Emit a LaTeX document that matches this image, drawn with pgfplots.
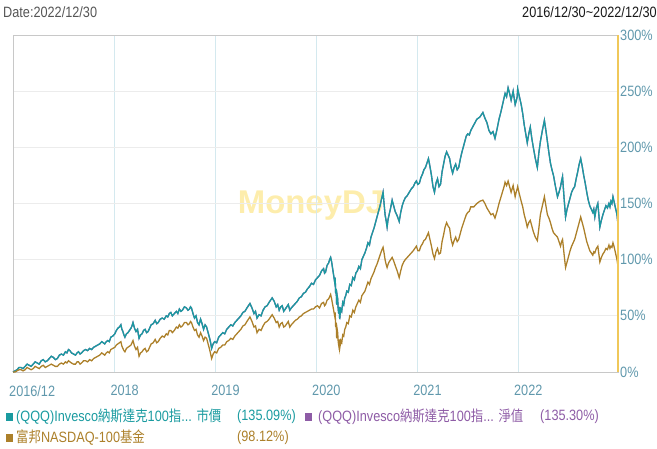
\documentclass[border=0pt]{standalone}
\usepackage{pgfplots}
\pgfplotsset{compat=1.18}
\usepackage{pgfplotstable}
\usepackage{fontspec}
\setmainfont{Liberation Sans}[FakeStretch=0.85]
\newfontfamily\cjk{Noto Sans CJK TC}[FakeStretch=0.83]
\newfontfamily\wm{Liberation Sans}

\definecolor{qqq}{RGB}{26,155,160}
\definecolor{nav}{RGB}{142,92,166}
\definecolor{fund}{RGB}{172,128,42}
\definecolor{ticktxt}{RGB}{96,152,172}
\definecolor{hgrid}{RGB}{236,236,236}
\definecolor{vgrid}{RGB}{212,233,239}
\definecolor{frame}{RGB}{200,200,200}
\definecolor{yaxis}{RGB}{240,200,90}
\definecolor{mark}{RGB}{253,237,172}

% t = years since 2016/12/30, q = QQQ price return %, f = fund return %
\pgfplotstableread{
t q f
0.00 0 0
0.02 1 0
0.04 2 1
0.06 4 2
0.08 4 2
0.10 3 1
0.12 5 2
0.14 7 4
0.16 6 3
0.18 5 2
0.20 7 3
0.22 9 5
0.24 8 4
0.26 7 3
0.28 10 5
0.30 11 6
0.32 9 4
0.34 10 5
0.36 12 6
0.38 14 7
0.40 13 6
0.42 11 5
0.44 12 5
0.46 15 7
0.48 16 8
0.50 15 7
0.52 18 9
0.535 17 8
0.55 20 10
0.565 19 9
0.58 17 8
0.60 16 7
0.62 15 7
0.635 17 9
0.65 18 9
0.665 16 7
0.68 17 8
0.70 19 10
0.72 20 10
0.74 19 9
0.76 21 11
0.78 20 10
0.80 22 12
0.82 23 13
0.84 24 14
0.86 25 15
0.88 27 17
0.895 26 16
0.91 25 15
0.925 27 17
0.94 28 18
0.955 27 17
0.97 31 20
0.99 32 21
1.01 34 22
1.025 37 24
1.04 39 25
1.055 40 26
1.07 42 27
1.08 38 23
1.09 36 21
1.10 33 19
1.11 31 18
1.125 34 21
1.14 35 22
1.155 37 23
1.17 39 24
1.18 41 26
1.19 44 28
1.205 39 23
1.22 36 20
1.235 38 22
1.25 30 14
1.265 33 17
1.28 34 18
1.295 37 20
1.31 38 21
1.325 35 18
1.34 36 19
1.355 39 22
1.37 42 25
1.39 43 26
1.41 46 29
1.425 43 26
1.44 44 27
1.46 47 30
1.48 48 32
1.50 47 31
1.52 50 34
1.535 49 33
1.55 52 37
1.565 53 37
1.58 50 35
1.60 52 37
1.62 54 40
1.635 52 39
1.65 56 42
1.665 54 40
1.68 55 41
1.70 58 44
1.72 57 44
1.735 55 42
1.75 56 43
1.76 58 45
1.77 57 44
1.785 52 40
1.80 48 37
1.815 50 38
1.83 44 33
1.845 42 31
1.86 47 35
1.875 43 32
1.89 38 28
1.905 42 31
1.92 40 30
1.935 35 25
1.95 30 20
1.96 26 16
1.97 21 12
1.985 25 16
2.00 27 18
2.02 26 17
2.04 31 21
2.06 33 22
2.08 35 24
2.10 34 24
2.12 38 27
2.14 40 28
2.16 42 30
2.18 41 29
2.20 44 32
2.22 46 34
2.24 48 36
2.26 50 38
2.28 53 41
2.30 54 42
2.32 57 45
2.335 59 47
2.35 61 49
2.37 57 45
2.39 52 40
2.405 54 41
2.42 48 35
2.44 51 38
2.46 50 37
2.48 55 41
2.50 58 44
2.52 59 45
2.54 62 47
2.555 64 49
2.57 66 51
2.59 63 48
2.61 58 44
2.625 60 45
2.64 55 40
2.655 58 43
2.67 59 44
2.685 54 40
2.70 56 41
2.715 58 43
2.73 60 45
2.745 55 40
2.76 57 42
2.78 59 44
2.80 61 46
2.82 63 47
2.84 66 49
2.86 67 50
2.88 70 52
2.90 71 53
2.92 74 54
2.94 76 55
2.96 79 56
2.98 78 56
3.00 82 58
3.02 84 59
3.04 86 57
3.06 90 61
3.08 92 62
3.09 88 59
3.10 89 60
3.115 95 64
3.13 97 65
3.14 100 67
3.15 102 69
3.16 98 65
3.17 92 60
3.18 86 55
3.19 80 50
3.195 84 53
3.20 70 40
3.205 74 44
3.21 60 30
3.215 68 38
3.22 65 35
3.225 56 27
3.23 52 24
3.235 58 29
3.24 47 21
3.245 52 24
3.25 56 28
3.26 54 26
3.27 62 33
3.28 60 32
3.29 66 38
3.30 68 40
3.31 72 44
3.325 71 43
3.34 78 50
3.355 77 49
3.37 84 55
3.385 82 53
3.40 88 58
3.415 90 61
3.43 94 64
3.445 92 62
3.46 100 68
3.475 103 70
3.49 106 72
3.505 110 76
3.52 115 80
3.535 113 78
3.55 120 83
3.565 124 86
3.58 128 89
3.595 133 93
3.61 138 96
3.625 143 100
3.64 148 104
3.655 154 108
3.67 160 111
3.68 150 106
3.69 140 100
3.70 135 96
3.71 129 93
3.72 136 96
3.73 140 98
3.745 146 100
3.76 153 102
3.775 148 99
3.79 143 95
3.81 139 90
3.83 134 84
3.845 142 90
3.86 148 95
3.875 152 98
3.89 155 100
3.91 157 102
3.93 160 104
3.95 163 106
3.97 165 108
3.985 168 110
4.00 170 112
4.015 167 108
4.03 168 108
4.045 173 112
4.06 176 114
4.075 180 117
4.09 182 118
4.105 186 121
4.12 190 124
4.135 183 118
4.15 175 112
4.165 165 105
4.18 160 101
4.195 168 107
4.21 172 110
4.225 165 105
4.24 167 106
4.255 178 116
4.27 185 122
4.285 192 129
4.30 196 133
4.315 193 130
4.33 190 128
4.345 182 118
4.36 177 113
4.375 182 117
4.39 185 120
4.405 180 116
4.42 182 118
4.435 189 123
4.45 195 128
4.465 200 132
4.48 205 136
4.495 210 140
4.51 212 142
4.525 211 143
4.54 215 147
4.57 220 147
4.60 225 150
4.63 227 152
4.66 231 153
4.68 226 150
4.70 222 146
4.72 215 143
4.74 212 140
4.76 214 141
4.78 208 137
4.80 216 143
4.82 225 150
4.84 232 156
4.86 240 162
4.87 244 165
4.88 248 169
4.895 245 166
4.91 253 170
4.925 248 165
4.94 242 160
4.95 246 163
4.96 250 166
4.97 244 161
4.98 238 156
4.99 241 160
5.00 245 163
5.005 252 165
5.02 246 159
5.04 238 152
5.055 230 147
5.07 220 140
5.085 212 135
5.10 204 129
5.115 212 133
5.13 218 135
5.145 208 130
5.16 200 125
5.18 190 120
5.20 182 117
5.215 195 128
5.23 205 140
5.25 215 148
5.27 224 156
5.285 215 148
5.30 205 140
5.315 195 137
5.33 186 133
5.345 180 128
5.36 175 124
5.38 165 122
5.40 156 120
5.415 160 116
5.43 165 112
5.44 170 116
5.45 174 118
5.465 155 105
5.48 138 93
5.495 145 98
5.51 150 103
5.525 155 108
5.54 160 112
5.555 163 115
5.57 165 118
5.585 172 123
5.60 178 128
5.615 185 133
5.63 190 138
5.645 183 133
5.66 175 128
5.675 168 122
5.69 160 116
5.705 153 112
5.72 148 108
5.735 145 106
5.75 142 104
5.76 145 107
5.77 138 106
5.785 146 110
5.80 150 112
5.81 140 105
5.82 129 98
5.835 135 102
5.85 140 105
5.865 144 107
5.88 148 110
5.895 146 109
5.91 150 113
5.92 147 110
5.93 152 112
5.94 150 111
5.95 156 115
5.96 152 112
5.97 148 108
5.98 144 104
5.99 140 100
6.00 131 94
}\series

\begin{document}
\begin{tikzpicture}[x=1bp,y=1bp]
\path[use as bounding box] (0,0) rectangle (657,449);
\node[anchor=center,font=\wm\bfseries\fontsize{33}{33}\selectfont,text=mark] at (311,243) {MoneyDJ};
\begin{axis}[
  at={(13bp,77bp)}, anchor=south west, scale only axis,
  width=605bp, height=337bp,
  xmin=0, xmax=6, ymin=0, ymax=300,
  axis line style={frame, line width=0.8pt},
  major tick length=0pt,
  xtick={0,1.005,2.005,3.005,4.008,5.008},
  xticklabels={2016/12,2018,2019,2020,2021,2022},
  ytick={0,50,...,300},
  yticklabel pos=right,
  yticklabel={\pgfmathprintnumber{\tick}\%},
  /pgf/number format/assume math mode=true,
  ticklabel style={font=\fontsize{15}{15}\selectfont, text=ticktxt, inner sep=0pt},
  xticklabel style={anchor=north west, xshift=-4bp, yshift=-13bp},
  yticklabel style={anchor=west, xshift=2bp},
  xmajorgrids, ymajorgrids,
  x grid style={vgrid, line width=0.8pt},
  y grid style={hgrid, line width=0.8pt},
  clip=false,
]
\addplot[nav, line width=1.3pt] table[x=t, y=q] {\series};
\addplot[qqq, line width=1.3pt] table[x=t, y=q] {\series};
\addplot[fund, line width=1.3pt] table[x=t, y=f] {\series};
\draw[yaxis, line width=1.2pt] (rel axis cs:1,0) -- (rel axis cs:1,1);
\end{axis}
\begin{scope}[every node/.style={inner sep=0pt, anchor=west, font=\fontsize{15}{15}\selectfont}]
\node[text={rgb,255:red,85;green,85;blue,85}] at (3,437) {Date:2022/12/30};
\node[anchor=east, text={rgb,255:red,25;green,25;blue,25}] at (657,437) {2016/12/30\char`~2022/12/30};
\fill[qqq] (6,28) rectangle (13,36);
\node[text=qqq] at (16,32) {(QQQ)Invesco{\cjk 納斯達克}100{\cjk 指}... {\cjk 市價}};
\node[text=qqq] at (237,32) {(135.09\%)};
\fill[nav] (305,28) rectangle (312,36);
\node[text=nav] at (318,32) {(QQQ)Invesco{\cjk 納斯達克}100{\cjk 指}... {\cjk 淨值}};
\node[text=nav] at (540,32) {(135.30\%)};
\fill[fund] (6,7) rectangle (13,15);
\node[text=fund] at (16,11) {{\cjk 富邦}NASDAQ-100{\cjk 基金}};
\node[text=fund] at (237,11) {(98.12\%)};
\end{scope}
\end{tikzpicture}
\end{document}
